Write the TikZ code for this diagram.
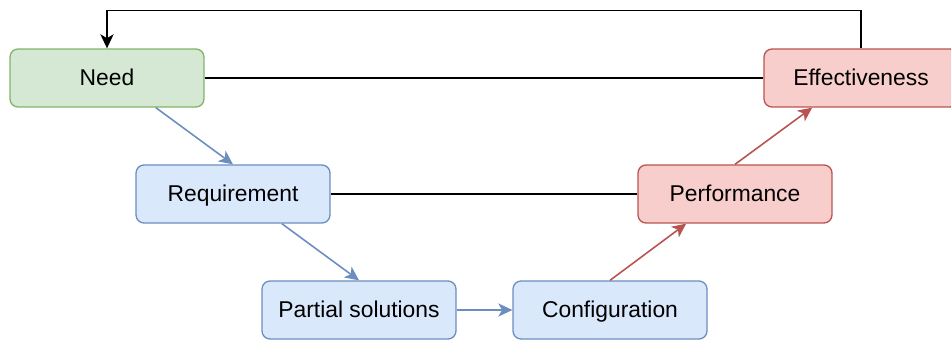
\documentclass[tikz,border=0pt]{standalone}
\usepackage{fontspec}
\setmainfont{Liberation Sans}
\usetikzlibrary{arrows.meta,calc}

\definecolor{needfill}{HTML}{D5E8D4}
\definecolor{needline}{HTML}{82B366}
\definecolor{blufill}{HTML}{DAE8FC}
\definecolor{bluline}{HTML}{6C8EBF}
\definecolor{redfill}{HTML}{F8CECC}
\definecolor{redline}{HTML}{B85450}

\begin{document}
\begin{tikzpicture}[x=0.02cm,y=-0.02cm,
    box/.style={draw,rounded corners=0.16cm,line width=0.75pt,
      minimum width=3.88cm,minimum height=1.16cm,inner sep=0pt,
      text height=0.86em,text depth=0pt,
      font=\fontsize{13}{15}\selectfont},
    greenbox/.style={box,fill=needfill,draw=needline},
    bluebox/.style={box,fill=blufill,draw=bluline},
    redbox/.style={box,fill=redfill,draw=redline},
    tip/.style={-{Stealth[length=8pt,width=7.5pt,inset=2.2pt]}},
    link/.style={line width=0.9pt}]
    \useasboundingbox (0,0) rectangle (951,341);

    \node[greenbox] (need) at (107,78) {Need};
    \node[bluebox] (req) at (233,194) {Requirement};
    \node[bluebox] (part) at (359,310) {Partial solutions};
    \node[bluebox] (conf) at (610,310) {Configuration};
    \node[redbox] (perf) at (735,194) {Performance};
    \node[redbox] (eff) at (861,78) {Effectiveness};

    % going down
    \draw[link,tip,bluline]
      ($(need.south)!.5!(need.south east)$) -- (req.north);
    \draw[link,tip,bluline]
      ($(req.south)!.5!(req.south east)$) -- (part.north);
    \draw[link,tip,bluline]
      (part.east) -- (conf.west);

    % going up
    \draw[link,tip,redline]
      (conf.north) -- ($(perf.south)!.5!(perf.south west)$);
    \draw[link,tip,redline]
      (perf.north) -- ($(eff.south)!.5!(eff.south west)$);

    % levels
    \draw[link] (need.east) -- (eff.west);
    \draw[link] (req.east) -- (perf.west);

    \coordinate (loop) at (861,10.5);
    \draw[link,tip] (eff.north) -- (loop) -| (need.north);
  \end{tikzpicture}
\end{document}
